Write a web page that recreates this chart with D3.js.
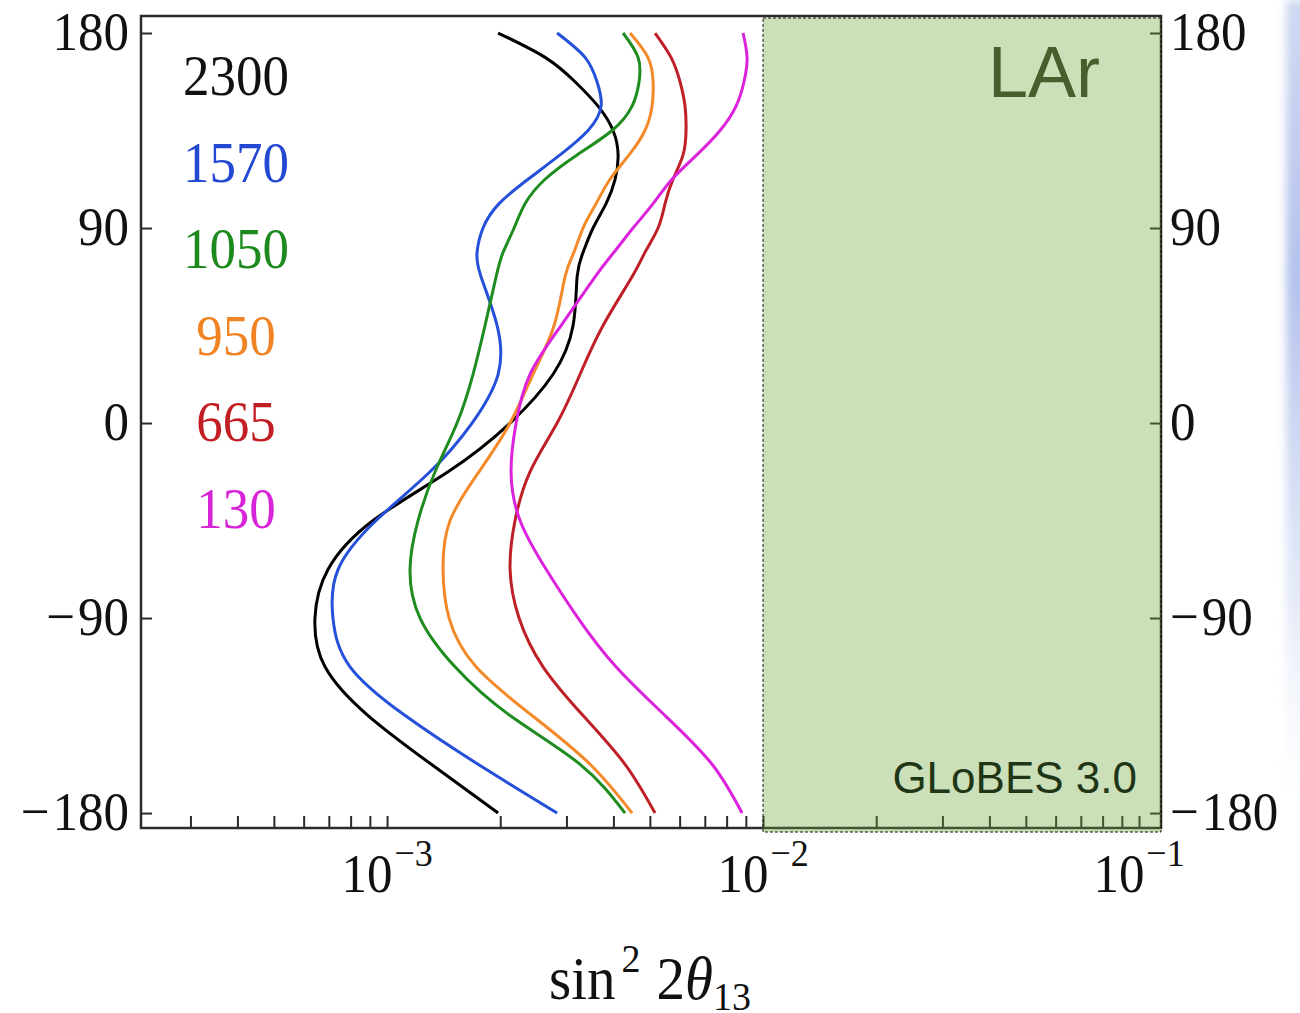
<!DOCTYPE html>
<html>
<head>
<meta charset="utf-8">
<script src="https://cdn.jsdelivr.net/npm/d3@7/dist/d3.min.js"></script>
<style>
  html, body { margin: 0; padding: 0; background: #fff; }
  svg { display: block; }
</style>
</head>
<body>
<script>
// CP phase grid (degrees) on which each sensitivity curve is sampled
const deltaCP = [-180, -157.5, -135, -112.5, -90, -67.5, -45, -22.5, 0, 22.5, 45,
                 67.5, 78.75, 90, 101.25, 112.5, 123.75, 135, 146.25, 157.5, 168.75, 180];

// sin^2 2theta13 reach (in units of 1e-3) for each baseline in km
const reach2300 = [1.974, 1.311, 0.890, 0.684, 0.643, 0.697, 0.918, 1.453, 2.124, 2.764, 3.124,
                   3.202, 3.321, 3.531, 3.824, 4.041, 4.116, 3.991, 3.640, 3.162, 2.632, 1.974];
const reach1570 = [2.833, 1.746, 1.117, 0.797, 0.718, 0.741, 0.935, 1.301, 1.683, 1.974, 1.962,
                   1.778, 1.735, 1.800, 1.986, 2.371, 2.885, 3.424, 3.709, 3.618, 3.362, 2.833];
const reach1050 = [4.295, 3.261, 2.124, 1.516, 1.224, 1.151, 1.209, 1.342, 1.535, 1.693, 1.822,
                   1.950, 2.035, 2.177, 2.328, 2.632, 3.202, 3.967, 4.484, 4.680, 4.652, 4.243];
const reach950  = [4.484, 3.467, 2.430, 1.725, 1.462, 1.409, 1.471, 1.756, 2.124, 2.445, 2.781,
                   2.974, 3.140, 3.321, 3.597, 3.918, 4.403, 4.852, 5.068, 5.100, 4.940, 4.429];
const reach665  = [5.162, 4.295, 3.321, 2.599, 2.244, 2.124, 2.190, 2.400, 2.833, 3.261, 3.754,
                   4.484, 4.852, 5.257, 5.488, 5.762, 6.127, 6.240, 6.202, 6.015, 5.692, 5.162];
const reach130  = [8.793, 7.318, 5.488, 4.064, 3.221, 2.648, 2.258, 2.137, 2.204, 2.400, 2.903,
                   3.575, 4.010, 4.511, 5.100, 5.728, 6.665, 7.686, 8.477, 8.900, 9.067, 8.847];

const baselines = ["2300", "1570", "1050", "950", "665", "130"];
const reaches = [reach2300, reach1570, reach1050, reach950, reach665, reach130];
const curveColors = ["#000000", "#2450da", "#1f8c1f", "#f38a2a", "#bf1f27", "#dc22dc"];
const labelColors = ["#111111", "#2248d4", "#1c8a1c", "#f08424", "#c21f24", "#d824d8"];

// axis ticks
const yTicks = [-180, -90, 0, 90, 180];
const xMajor = [1e-3, 1e-2, 1e-1];
const xMajorExp = ["\u22123", "\u22122", "\u22121"];
const excludedFrom = 1e-2;   // shaded region bound
const detector = "LAr";
const software = "GLoBES 3.0";

const W = 1300, H = 1013;
const frame = { left: 141, right: 1161, top: 16, bottom: 828 };

const svg = d3.select("body").append("svg")
  .attr("width", W).attr("height", H)
  .attr("viewBox", `0 0 ${W} ${H}`);

const x = d3.scaleLog()
  .domain([2.216e-4, 0.1144])
  .range([frame.left, frame.right]);
const y = d3.scaleLinear()
  .domain([-186.9, 187.85])
  .range([frame.bottom, frame.top]);

const serif = "'Liberation Serif', 'Times New Roman', serif";
const sans = "'Liberation Sans', Arial, sans-serif";
const axisColor = "#2b2b2b";
const vStretch = 1.07;

// faint bluish strip along the right edge
const defs = svg.append("defs");
const grad = defs.append("linearGradient").attr("id", "edgeGrad")
  .attr("x1", 0).attr("y1", 0).attr("x2", 0).attr("y2", 1);
grad.append("stop").attr("offset", "0%").attr("stop-color", "#c3cfee").attr("stop-opacity", 0.8);
grad.append("stop").attr("offset", "35%").attr("stop-color", "#b3c2ec").attr("stop-opacity", 1);
grad.append("stop").attr("offset", "75%").attr("stop-color", "#d3dcf3").attr("stop-opacity", 0.6);
grad.append("stop").attr("offset", "100%").attr("stop-color", "#e6ebf8").attr("stop-opacity", 0);
defs.append("filter").attr("id", "soft").attr("x", "-50%").attr("width", "200%")
  .append("feGaussianBlur").attr("stdDeviation", 4);
svg.append("rect").attr("x", 1286).attr("y", 0).attr("width", 24).attr("height", 800)
  .attr("fill", "url(#edgeGrad)").attr("filter", "url(#soft)");

// clip for curves
defs.append("clipPath").attr("id", "plotClip").append("rect")
  .attr("x", frame.left).attr("y", frame.top)
  .attr("width", frame.right - frame.left).attr("height", frame.bottom - frame.top);

// curves: smooth natural spline through the sampled points
const line = d3.line()
  .x(d => x(d[1] * 1e-3))
  .y(d => y(d[0]))
  .curve(d3.curveNatural);

const curves = svg.append("g").attr("clip-path", "url(#plotClip)");
reaches.forEach((vals, i) => {
  curves.append("path")
    .datum(deltaCP.map((d, k) => [d, vals[k]]))
    .attr("d", line)
    .attr("fill", "none")
    .attr("stroke", curveColors[i])
    .attr("stroke-width", 3)
    .attr("stroke-linejoin", "round")
    .attr("stroke-linecap", "butt");
});

// frame
svg.append("rect")
  .attr("x", frame.left).attr("y", frame.top)
  .attr("width", frame.right - frame.left).attr("height", frame.bottom - frame.top)
  .attr("fill", "none").attr("stroke", axisColor).attr("stroke-width", 2.5);

// bottom axis (log) ticks pointing inward
const xMinor = [];
for (let e = -4; e <= -1; e++) {
  for (let m = 1; m <= 9; m++) {
    const v = m * Math.pow(10, e);
    if (v > x.domain()[0] && v < x.domain()[1]) xMinor.push(v);
  }
}
const bottomAxis = d3.axisBottom(x).tickValues(xMinor).tickSize(-12).tickFormat("");
svg.append("g").attr("transform", `translate(0,${frame.bottom})`).call(bottomAxis)
  .call(g => g.select(".domain").remove())
  .call(g => g.selectAll(".tick line").attr("stroke", axisColor).attr("stroke-width", 2));

// left & right axes ticks inward
const leftAxis = d3.axisLeft(y).tickValues(yTicks).tickSize(-11).tickFormat("");
svg.append("g").attr("transform", `translate(${frame.left},0)`).call(leftAxis)
  .call(g => g.select(".domain").remove())
  .call(g => g.selectAll(".tick line").attr("stroke", axisColor).attr("stroke-width", 2));
const rightAxis = d3.axisRight(y).tickValues(yTicks).tickSize(-11).tickFormat("");
svg.append("g").attr("transform", `translate(${frame.right},0)`).call(rightAxis)
  .call(g => g.select(".domain").remove())
  .call(g => g.selectAll(".tick line").attr("stroke", axisColor).attr("stroke-width", 2));

// shaded region (translucent, over the axes)
svg.append("rect")
  .attr("x", x(excludedFrom)).attr("y", frame.top + 2)
  .attr("width", frame.right - x(excludedFrom)).attr("height", frame.bottom - frame.top + 2)
  .attr("fill", "rgb(106,164,52)").attr("fill-opacity", 0.35)
  .attr("stroke", "#111").attr("stroke-width", 1).attr("stroke-dasharray", "3,2");

// y tick labels, both sides (wide minus sign)
const stretched = (sel, tx, ty) => sel.append("g").attr("transform", `translate(${tx},${ty}) scale(1,${vStretch})`);
const degLabel = (g, d, anchor) => {
  const t = g.append("text")
    .attr("text-anchor", anchor).attr("font-family", serif).attr("font-size", 51)
    .attr("fill", "#111");
  if (d < 0) {
    t.append("tspan").text("\u2212");
    t.append("tspan").attr("dx", 3).text(Math.abs(d));
  } else {
    t.text(d);
  }
};
yTicks.forEach(t => {
  degLabel(stretched(svg, 129, y(t) + 17), t, "end");
  degLabel(stretched(svg, 1170, y(t) + 17), t, "start");
});

// x tick labels: 10^n
xMajor.forEach((v, i) => {
  const t = stretched(svg, x(v), 892).append("text")
    .attr("text-anchor", "middle").attr("font-family", serif).attr("font-size", 51)
    .attr("fill", "#111");
  t.append("tspan").text("10");
  t.append("tspan").attr("font-size", 36).attr("dy", -24).attr("dx", 2).text(xMajorExp[i]);
});

// x axis title: sin^2 2theta_13
const title = stretched(svg, 650, 999).append("text")
  .attr("text-anchor", "middle").attr("font-family", serif).attr("font-size", 57)
  .attr("fill", "#111");
title.append("tspan").text("sin");
title.append("tspan").attr("font-size", 38).attr("dy", -25).attr("dx", 6).text("2");
title.append("tspan").attr("dy", 25).attr("dx", 16).text("2");
title.append("tspan").attr("font-style", "italic").text("\u03b8");
title.append("tspan").attr("font-size", 38).attr("dy", 10).text("13");

// legend of baselines
baselines.forEach((b, i) => {
  stretched(svg, 236, 95 + i * 86.6).append("text")
    .attr("text-anchor", "middle").attr("font-family", serif).attr("font-size", 53)
    .attr("fill", labelColors[i]).text(b);
});

// annotations
svg.append("text")
  .attr("x", 1100).attr("y", 97).attr("text-anchor", "end")
  .attr("font-family", sans).attr("font-size", 72).attr("fill", "#4a5d2c")
  .text(detector);
svg.append("text")
  .attr("x", 1137).attr("y", 793).attr("text-anchor", "end")
  .attr("font-family", sans).attr("font-size", 44).attr("fill", "#1f3616")
  .text(software);
</script>
</body>
</html>
